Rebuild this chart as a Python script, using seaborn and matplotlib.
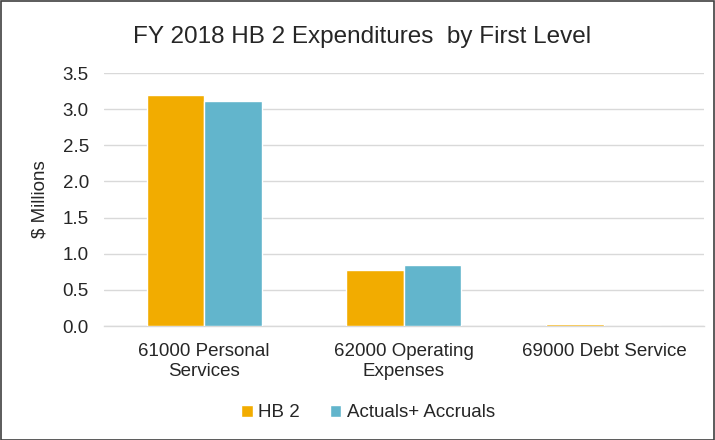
import matplotlib
matplotlib.use("Agg")
import matplotlib.pyplot as plt
import seaborn as sns
import pandas as pd

# data
categories = ['61000 Personal\nServices', '62000 Operating\nExpenses', '69000 Debt Service']
hb2 = [3.19, 0.78, 0.025]
actuals = [3.12, 0.84, 0.0]
series = ['HB 2', 'Actuals+ Accruals']

df = pd.DataFrame({'Categoria': categories, series[0]: hb2, series[1]: actuals})
df = df.melt(id_vars='Categoria', var_name='Serie', value_name='Valor')

sns.set_style('white')
plt.rcParams['font.family'] = ['Liberation Sans', 'DejaVu Sans']

fig = plt.figure(figsize=(7.15, 4.4), dpi=100)
ax = fig.add_axes([0.1455, 0.259, 0.839, 0.575])

colors = ['#F2AC00', '#62B5CC']
sns.barplot(data=df, x='Categoria', y='Valor', hue='Serie', palette=colors,
            width=0.575, saturation=1, ax=ax, zorder=3)

ax.set_ylim(0, 3.5)
ax.set_yticks([0, 0.5, 1.0, 1.5, 2.0, 2.5, 3.0, 3.5])
ax.set_yticklabels([f'{v:.1f}' for v in ax.get_yticks()], fontsize=13.5)
ax.tick_params(axis='x', labelsize=13.5, length=0, pad=12)
ax.tick_params(axis='y', length=0, pad=11)
for lbl in ax.get_xticklabels():
    lbl.set_linespacing(1.25)
ax.yaxis.grid(True, color='#D9D9D9', linewidth=1, zorder=0)
for s in ['top', 'right', 'left']:
    ax.spines[s].set_visible(False)
ax.spines['bottom'].set_color('#D9D9D9')
ax.spines['bottom'].set_linewidth(1)
ax.set_xlabel('')
ax.set_ylabel('$ Millions', fontsize=13.5, labelpad=10)

fig.text(0.506, 0.915, 'FY 2018 HB 2 Expenditures  by First Level', ha='center',
         va='center', fontsize=17.5)

ax.legend(loc='center', ncol=2, frameon=False, fontsize=13.5, handlelength=0.6,
          handleheight=0.6, handletextpad=0.3, columnspacing=1.6)
ax.get_legend().set_bbox_to_anchor((0.515, 0.062), transform=fig.transFigure)

# borda da figura
fig.patches.append(plt.Rectangle((0.001, 0.001), 0.998, 0.997, transform=fig.transFigure,
                                 fill=False, edgecolor='#404040', linewidth=1.2))

fig.savefig('out.png', dpi=100)
